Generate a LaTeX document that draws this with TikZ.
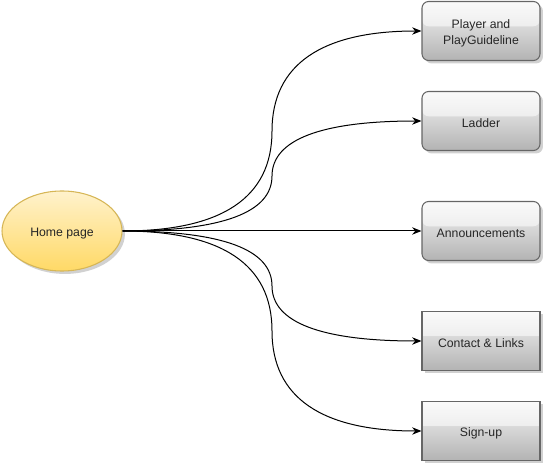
\documentclass[tikz,border=0pt]{standalone}
\usepackage{fontspec}
\setmainfont{Liberation Sans}
\usetikzlibrary{shapes.geometric,shadows,arrows.meta,calc}
\definecolor{boxstroke}{HTML}{666666}
\definecolor{boxtop}{HTML}{F5F5F5}
\definecolor{boxbot}{HTML}{B3B3B3}
\definecolor{elltop}{HTML}{FFF2CC}
\definecolor{ellbot}{HTML}{FFD966}
\definecolor{ellstroke}{HTML}{D6B656}
\newcommand{\lowtext}[2][1.6pt]{\raisebox{-#1}[\height][\depth]{#2}}
\tikzset{
  glass/.style={path picture={
    \fill[white,opacity=0.55] (path picture bounding box.north west) rectangle ($(path picture bounding box.north east)!0.42!(path picture bounding box.south east)$);
  }},
  pagebox/.style={draw=boxstroke, line width=0.8pt, top color=boxtop, bottom color=boxbot,
    minimum width=88.5pt, minimum height=44.25pt, inner sep=2pt, align=center,
    font=\fontsize{9.2}{11}\selectfont, text=black!85,
    drop shadow={shadow xshift=2.2pt, shadow yshift=-2.2pt, fill=black, opacity=0.18}, glass},
  roundbox/.style={pagebox, rounded corners=5pt},
  homeell/.style={ellipse, draw=ellstroke, line width=0.8pt, top color=elltop, bottom color=ellbot,
    minimum width=90pt, minimum height=60pt, inner sep=0pt,
    font=\fontsize{9.2}{11}\selectfont, text=black!85,
    drop shadow={shadow xshift=2.2pt, shadow yshift=-2.2pt, fill=black, opacity=0.18}},
  link/.style={draw=black, line width=0.75pt, -{Stealth[length=7pt,width=5.5pt]}}
}
\begin{document}
\begin{tikzpicture}[x=0.75pt,y=-0.75pt]
\useasboundingbox (0,0) rectangle (545,466);
\node[homeell] (home) at (62,231) {\lowtext[2.2pt]{Home page}};
\node[roundbox] (b1) at (481,31) {\lowtext[2pt]{\begin{tabular}{@{}c@{}}Player and\\[1.2pt]PlayGuideline\end{tabular}}};
\node[roundbox] (b2) at (481,121) {\lowtext{Ladder}};
\node[roundbox] (b3) at (481,231) {\lowtext{Announcements}};
\node[pagebox] (b4) at (481,341) {\lowtext{Contact \& Links}};
\node[pagebox] (b5) at (481,431) {\lowtext{Sign-up}};
\foreach \n/\y in {b1/31,b2/121,b4/341,b5/431}{
  \draw[link] (home.east) .. controls (222,231) and (272,{(231+\y)/2+(231-\y)/3}) ..
    (272,{(231+\y)/2}) .. controls (272,{(231+\y)/2-(231-\y)/3}) and (322,\y) .. (\n.west);
}
\draw[link] (home.east) -- (b3.west);
\end{tikzpicture}
\end{document}
